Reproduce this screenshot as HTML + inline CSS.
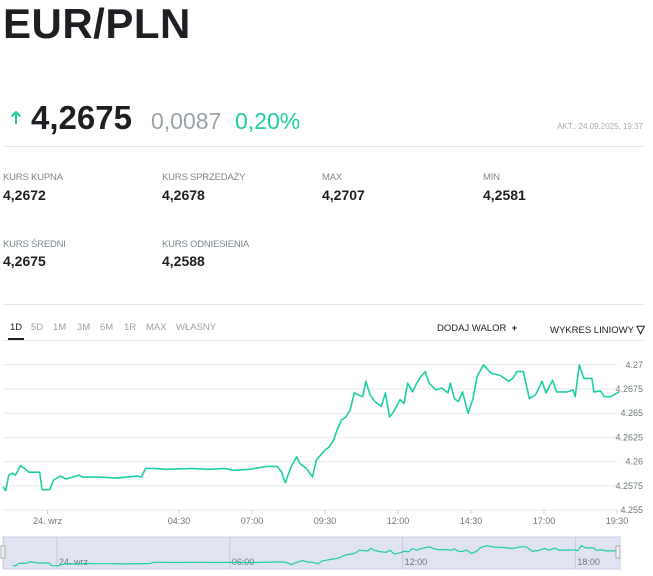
<!DOCTYPE html>
<html><head><meta charset="utf-8"><style>
body{margin:0;width:653px;height:576px;background:#fff;font-family:"Liberation Sans",sans-serif;position:relative;overflow:hidden;color:#1d1f23}
.a{position:absolute;white-space:nowrap}
.lbl{font-size:9.5px;color:#7b878d;letter-spacing:-0.2px}
.val{font-size:14px;font-weight:bold;color:#1d1f23}
.tab{font-size:9.5px;color:#9aa3a8}
.hr{position:absolute;left:3px;width:640px;height:1px;background:#e2e4e6}
</style></head><body>
<div class="a" style="left:3px;top:0px;font-size:42px;font-weight:bold;letter-spacing:0.5px">EUR/PLN</div>
<svg class="a" style="left:10px;top:111px" width="12" height="14"><path d="M6 1 L6 13 M1.5 5.5 L6 1 L10.5 5.5" stroke="#1ccfa0" stroke-width="2" fill="none"/></svg>
<div class="a" style="left:31px;top:99px;font-size:33px;font-weight:bold">4,2675</div>
<div class="a" style="left:151px;top:108px;font-size:23px;color:#9aa3a8">0,0087</div>
<div class="a" style="left:235px;top:108px;font-size:23px;color:#1ccfa0">0,20%</div>
<div class="a" style="right:10px;top:122px;font-size:8px;color:#a5acb0">AKT.: 24.09.2025, 19:37</div>
<div class="hr" style="top:146px"></div>

<div class="a lbl" style="left:3px;top:172px">KURS KUPNA</div>
<div class="a val" style="left:3px;top:187px">4,2672</div>
<div class="a lbl" style="left:162px;top:172px">KURS SPRZEDAŻY</div>
<div class="a val" style="left:162px;top:187px">4,2678</div>
<div class="a lbl" style="left:322px;top:172px">MAX</div>
<div class="a val" style="left:322px;top:187px">4,2707</div>
<div class="a lbl" style="left:483px;top:172px">MIN</div>
<div class="a val" style="left:483px;top:187px">4,2581</div>
<div class="a lbl" style="left:3px;top:239px">KURS ŚREDNI</div>
<div class="a val" style="left:3px;top:253px">4,2675</div>
<div class="a lbl" style="left:162px;top:239px">KURS ODNIESIENIA</div>
<div class="a val" style="left:162px;top:253px">4,2588</div>
<div class="hr" style="top:304px"></div>

<div class="a tab" style="left:10px;top:322px;color:#1d1f23">1D</div>
<div class="a" style="left:8px;top:338px;width:16px;height:2px;background:#1d1f23"></div>
<div class="a tab" style="left:31px;top:322px">5D</div>
<div class="a tab" style="left:53px;top:322px">1M</div>
<div class="a tab" style="left:77px;top:322px">3M</div>
<div class="a tab" style="left:100px;top:322px">6M</div>
<div class="a tab" style="left:124px;top:322px">1R</div>
<div class="a tab" style="left:146px;top:322px">MAX</div>
<div class="a tab" style="left:176px;top:322px">WŁASNY</div>
<div class="a" style="left:437px;top:323px;font-size:9.5px;color:#1d1f23">DODAJ WALOR &nbsp;<b>+</b></div>
<div class="a" style="left:550px;top:323px;font-size:9.5px;color:#1d1f23">WYKRES LINIOWY <b style="font-size:11px">▽</b></div>
<div class="hr" style="top:340px"></div>

<svg class="a" id="chart" style="left:0;top:0" width="653" height="576"></svg>

<script>
const hours=[-1.53,-1.44,-1.33,-1.21,-1.10,-0.93,-0.79,-0.64,-0.27,-0.19,0.07,0.21,0.43,0.64,0.86,1.07,1.21,1.79,2.36,3.07,3.21,3.36,3.64,4.07,4.93,5.5,6.07,6.36,6.93,7.5,7.86,8.0,8.14,8.21,8.36,8.53,8.64,8.86,9.07,9.21,9.36,9.5,9.64,9.79,9.93,10.07,10.21,10.36,10.5,10.64,10.79,10.9,11.04,11.21,11.43,11.57,11.71,11.86,12.07,12.21,12.33,12.5,12.64,12.79,12.93,13.07,13.29,13.5,13.71,13.79,13.93,14.07,14.21,14.4,14.57,14.71,14.93,15.07,15.21,15.5,15.79,15.93,16.07,16.29,16.5,16.71,16.93,17.07,17.29,17.43,17.79,18.0,18.07,18.21,18.36,18.64,18.71,18.93,19.07,19.29,19.57];
const rates=[4.2574,4.2570,4.2586,4.2588,4.2586,4.2596,4.2593,4.2589,4.2589,4.2571,4.2571,4.2581,4.2585,4.2582,4.2584,4.2586,4.2584,4.2584,4.2583,4.2585,4.2584,4.2593,4.2593,4.2592,4.2593,4.2592,4.2593,4.2591,4.2592,4.2595,4.2595,4.2590,4.2578,4.2584,4.2596,4.2605,4.2598,4.2593,4.2584,4.2602,4.2607,4.2612,4.2615,4.2622,4.2634,4.2643,4.2646,4.2653,4.2671,4.2669,4.2667,4.2683,4.2669,4.2662,4.2657,4.2671,4.2646,4.2652,4.2664,4.2660,4.2681,4.2672,4.2681,4.2688,4.2693,4.2681,4.2674,4.2676,4.2671,4.2681,4.2665,4.2662,4.2672,4.2650,4.2665,4.2688,4.2700,4.2695,4.2691,4.2689,4.2683,4.2686,4.2693,4.2693,4.2665,4.2669,4.2683,4.2671,4.2684,4.2672,4.2672,4.2674,4.2667,4.2700,4.2686,4.2686,4.2672,4.2673,4.2667,4.2667,4.2672];
const yTicks=[4.27,4.2675,4.265,4.2625,4.26,4.2575,4.255];
const xTickHours=[0,4.5,7,9.5,12,14.5,17,19.5];
const xTickLabels=["24. wrz","04:30","07:00","09:30","12:00","14:30","17:00","19:30"];
const navTickHours=[0,6,12,18];
const navTickLabels=["24. wrz","06:00","12:00","18:00"];

const NS="http://www.w3.org/2000/svg";
const svg=document.getElementById('chart');
function mk(t,a){const e=document.createElementNS(NS,t);for(const k in a)e.setAttribute(k,a[k]);svg.appendChild(e);return e;}
const xS=h=>47.6+h*29.2;
const yS=v=>510-(v-4.255)*9680;
const nxS=h=>57+h*28.8;
const nyS=v=>569-(v-4.255)*1550;

yTicks.forEach(v=>{
  const l=mk('line',{x1:3,x2:617,y1:yS(v),y2:yS(v),stroke:'#e6e8ea','stroke-width':1});
  
  
  const t=mk('text',{x:643,y:yS(v)+3,'text-anchor':'end','font-size':'9','fill':'#6d777c'});
  t.textContent=String(v);
  
  
});
xTickHours.forEach((h,i)=>{
  const tk=mk('line',{x1:xS(h),x2:xS(h),y1:510,y2:514,stroke:'#ccd0d3'});
  
  
  const t=mk('text',{x:xS(h),y:524,'text-anchor':'middle','font-size':'9','fill':'#6d777c'});
  t.textContent=xTickLabels[i];
  
  
});
const line=mk('path',{d:hours.map((h,i)=>(i?'L':'M')+xS(h).toFixed(1)+','+yS(rates[i]).toFixed(1)).join(''),fill:'none',stroke:'#1ccfa5','stroke-width':1.6,'stroke-linejoin':'round'});



const nav=mk('rect',{x:3,y:537,width:617,height:32,fill:'#dfe3f2',stroke:'#c9cfe0'});


navTickHours.forEach((h,i)=>{
  const g=mk('line',{x1:nxS(h),x2:nxS(h),y1:537,y2:569,stroke:'#c5cbdc'});
  
  
  const t=mk('text',{x:nxS(h)+2,y:565,'font-size':'9','fill':'#6d777c'});
  t.textContent=navTickLabels[i];
  
  
});
const nl=mk('path',{d:hours.map((h,i)=>(i?'L':'M')+Math.max(3,nxS(h)).toFixed(1)+','+nyS(rates[i]).toFixed(1)).join(''),fill:'none',stroke:'#1ccfa5','stroke-width':1.2});


[1,616].forEach(x=>{
  const hnd=mk('rect',{x:x,y:546,width:4,height:12,fill:'#f2f2f2',stroke:'#aaa'});
  
  
});
</script>
</body></html>
